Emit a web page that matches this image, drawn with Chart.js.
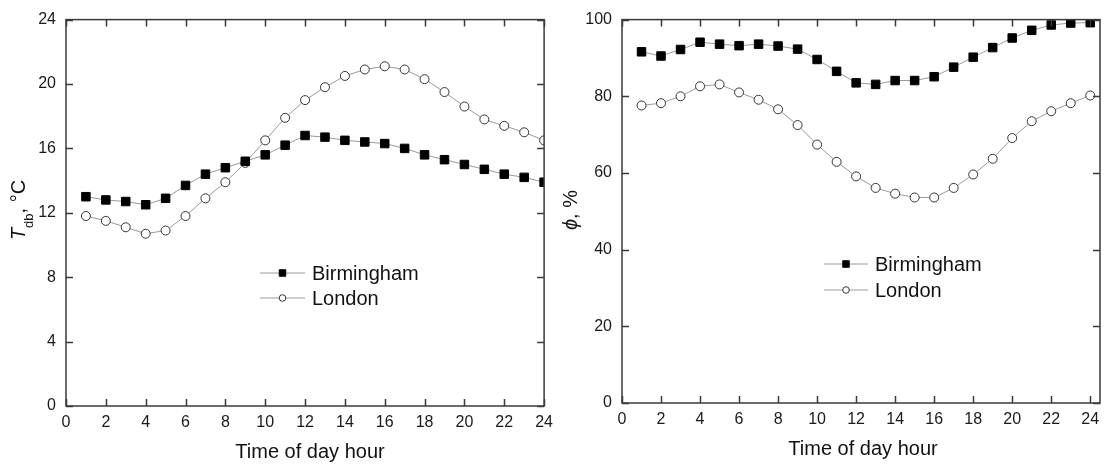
<!DOCTYPE html>
<html>
<head>
<meta charset="utf-8">
<script src="https://cdn.jsdelivr.net/npm/chart.js@4.4.1/dist/chart.umd.min.js"></script>
<style>
  html, body { margin: 0; padding: 0; background: #fff; }
  #wrap { position: relative; width: 1107px; height: 465px; }
  canvas { position: absolute; top: 0; }
  #tempChart { left: 0; }
  #rhChart { left: 560px; }
</style>
</head>
<body>
<div id="wrap">
  <canvas id="tempChart" width="560" height="465"></canvas>
  <canvas id="rhChart" width="547" height="465"></canvas>
</div>
<script>
// hourly means, Birmingham vs London
const hours = [1, 2, 3, 4, 5, 6, 7, 8, 9, 10, 11, 12, 13, 14, 15, 16, 17, 18, 19, 20, 21, 22, 23, 24];
const birminghamTdb = [13.0, 12.8, 12.7, 12.5, 12.9, 13.7, 14.4, 14.8, 15.2, 15.6, 16.2, 16.8, 16.7, 16.5, 16.4, 16.3, 16.0, 15.6, 15.3, 15.0, 14.7, 14.4, 14.2, 13.9];
const londonTdb = [11.8, 11.5, 11.1, 10.7, 10.9, 11.8, 12.9, 13.9, 15.1, 16.5, 17.9, 19.0, 19.8, 20.5, 20.9, 21.1, 20.9, 20.3, 19.5, 18.6, 17.8, 17.4, 17.0, 16.5];
const birminghamRH = [91.6, 90.5, 92.2, 94.1, 93.6, 93.2, 93.6, 93.1, 92.3, 89.6, 86.5, 83.5, 83.1, 84.1, 84.1, 85.1, 87.6, 90.2, 92.7, 95.2, 97.2, 98.6, 99.1, 99.2];
const londonRH = [77.6, 78.2, 80.0, 82.6, 83.1, 81.0, 79.1, 76.6, 72.5, 67.4, 62.9, 59.1, 56.1, 54.6, 53.6, 53.6, 56.1, 59.6, 63.7, 69.1, 73.5, 76.1, 78.2, 80.2];
const seriesNames = ['Birmingham', 'London'];

const FONT = '"Liberation Sans", Arial, sans-serif';
const INK = '#1a1a1a';

function pts(vals) {
  return hours.map((h, i) => ({ x: h, y: vals[i] }));
}

function makeDatasets(bVals, lVals) {
  return [
    {
      label: seriesNames[0], data: pts(bVals),
      borderColor: '#9a9a9a', borderWidth: 1,
      pointStyle: 'rect', pointRadius: 6,
      pointBackgroundColor: '#000', pointBorderColor: '#000', pointBorderWidth: 1
    },
    {
      label: seriesNames[1], data: pts(lVals),
      borderColor: '#9a9a9a', borderWidth: 1,
      pointStyle: 'circle', pointRadius: 4.5,
      pointBackgroundColor: '#fff', pointBorderColor: '#333', pointBorderWidth: 1
    }
  ];
}

// box around the plot, inward ticks on all four sides, legend and axis titles
const decor = {
  id: 'decor',
  afterDraw(chart, args, o) {
    const { ctx, chartArea: a, scales: { x, y } } = chart;
    ctx.save();
    ctx.strokeStyle = '#3a3a3a';
    ctx.lineWidth = 1.5;
    ctx.strokeRect(a.left, a.top, a.right - a.left, a.bottom - a.top);
    ctx.beginPath();
    x.ticks.forEach(t => {
      const px = Math.round(x.getPixelForValue(t.value)) + 0.5;
      ctx.moveTo(px, a.bottom); ctx.lineTo(px, a.bottom - 7);
      ctx.moveTo(px, a.top); ctx.lineTo(px, a.top + 7);
    });
    y.ticks.forEach(t => {
      const py = Math.round(y.getPixelForValue(t.value)) + 0.5;
      ctx.moveTo(a.left, py); ctx.lineTo(a.left + 7, py);
      ctx.moveTo(a.right, py); ctx.lineTo(a.right - 7, py);
    });
    ctx.stroke();

    // legend
    const lg = o.legend;
    chart.data.datasets.forEach((ds, i) => {
      const ly = lg.y + i * lg.gap;
      ctx.strokeStyle = ds.borderColor;
      ctx.lineWidth = 1;
      ctx.beginPath();
      ctx.moveTo(lg.x, ly); ctx.lineTo(lg.x + lg.len, ly);
      ctx.stroke();
      ctx.fillStyle = ds.pointBackgroundColor;
      ctx.strokeStyle = ds.pointBorderColor;
      ctx.lineWidth = 1;
      Chart.helpers.drawPoint(ctx, {
        pointStyle: ds.pointStyle, rotation: 0, borderWidth: 1,
        radius: ds.pointStyle === 'rect' ? 4.6 : 3.3
      }, lg.x + lg.len / 2, ly);
      ctx.fillStyle = '#111';
      ctx.font = '20px ' + FONT;
      ctx.textBaseline = 'middle';
      ctx.textAlign = 'left';
      ctx.fillText(ds.label, lg.x + lg.len + 7, ly + 1);
    });

    // x title
    ctx.fillStyle = '#111';
    ctx.font = '20px ' + FONT;
    ctx.textAlign = 'center';
    ctx.textBaseline = 'alphabetic';
    ctx.fillText('Time of day hour', o.xTitle.x, o.xTitle.y);

    // y title, rotated, built from styled pieces
    ctx.translate(o.yTitle.x, o.yTitle.y);
    ctx.rotate(-Math.PI / 2);
    const parts = o.yTitle.parts;
    let w = 0;
    parts.forEach(p => { ctx.font = p.font; w += ctx.measureText(p.text).width; });
    let cx = -w / 2;
    ctx.textAlign = 'left';
    parts.forEach(p => {
      ctx.font = p.font;
      ctx.fillText(p.text, cx, p.dy || 0);
      cx += ctx.measureText(p.text).width;
    });
    ctx.restore();
  }
};

function makeChart(id, bVals, lVals, cfg) {
  return new Chart(document.getElementById(id), {
    type: 'line',
    data: { datasets: makeDatasets(bVals, lVals) },
    options: {
      responsive: false,
      animation: false,
      layout: { padding: { top: cfg.top, right: cfg.right, left: 0, bottom: 0 } },
      plugins: { legend: { display: false }, tooltip: { enabled: false }, decor: cfg.decor },
      scales: {
        x: {
          type: 'linear', min: 0, max: cfg.xMax,
          grid: { display: false, drawTicks: false },
          border: { display: false },
          ticks: { stepSize: 2, includeBounds: false, padding: 7, color: INK, font: { family: FONT, size: 16 } },
          afterFit(s) { s.height = cfg.xHeight; }
        },
        y: {
          type: 'linear', min: 0, max: cfg.yMax,
          grid: { display: false, drawTicks: false },
          border: { display: false },
          ticks: { stepSize: cfg.yStep, padding: 10, color: INK, font: { family: FONT, size: 16 } },
          afterFit(s) { s.width = cfg.yWidth; }
        }
      }
    },
    plugins: [decor]
  });
}

makeChart('tempChart', birminghamTdb, londonTdb, {
  top: 16, right: 14, xHeight: 59, yWidth: 66, xMax: 24, yMax: 24, yStep: 4,
  decor: {
    legend: { x: 260, y: 273, gap: 25, len: 45 },
    xTitle: { x: 310, y: 458 },
    yTitle: {
      x: 25, y: 210,
      parts: [
        { text: 'T', font: 'italic 20px ' + FONT },
        { text: 'db', font: '13px ' + FONT, dy: 8 },
        { text: ', °C', font: '20px ' + FONT }
      ]
    }
  }
});

makeChart('rhChart', birminghamRH, londonRH, {
  top: 15, right: 2, xHeight: 62, yWidth: 62, xMax: 24.5, yMax: 100, yStep: 20,
  decor: {
    legend: { x: 264, y: 264, gap: 26, len: 44 },
    xTitle: { x: 303, y: 455 },
    yTitle: {
      x: 17, y: 210,
      parts: [
        { text: 'ϕ', font: 'italic 20px ' + FONT },
        { text: ', %', font: '20px ' + FONT }
      ]
    }
  }
});
</script>
</body>
</html>
